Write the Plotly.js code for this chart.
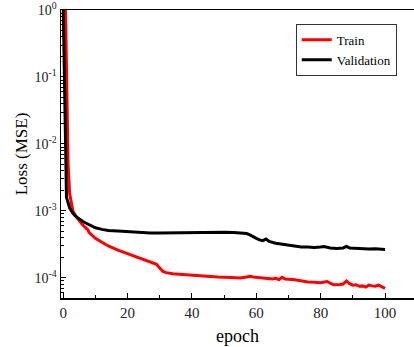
<!DOCTYPE html>
<html>
<head>
<meta charset="utf-8">
<script src="https://cdn.plot.ly/plotly-3.0.1.min.js"></script>
<style>html,body{margin:0;padding:0;background:#fff;}#chart{width:414px;height:347px;}</style>
</head>
<body>
<div id="chart"></div>
<script>
// Validation loss
const valEpoch = [0,0.5,1,2,3,4,5,6,7,8,9,10,12,14,17,20,23,25,27,30,35,40,45,50,53,56,57,58,59,60,61,62,63,64,66,68,70,72,74,76,78,80,81,83,85,87,88,89,91,93,95,97,99,100];
const valLoss = [1.0,0.05,1.6e-3,1.1e-3,9.2e-4,8.2e-4,7.5e-4,7.0e-4,6.6e-4,6.2e-4,5.9e-4,5.6e-4,5.3e-4,5.1e-4,5.0e-4,4.9e-4,4.8e-4,4.85e-4,4.7e-4,4.7e-4,4.75e-4,4.8e-4,4.8e-4,4.8e-4,4.75e-4,4.7e-4,4.6e-4,4.4e-4,4.1e-4,3.9e-4,3.7e-4,3.6e-4,3.8e-4,3.5e-4,3.3e-4,3.2e-4,3.1e-4,2.95e-4,2.9e-4,2.9e-4,2.85e-4,2.9e-4,2.95e-4,2.8e-4,2.75e-4,2.8e-4,2.95e-4,2.8e-4,2.75e-4,2.75e-4,2.7e-4,2.72e-4,2.68e-4,2.65e-4];
// Train loss
const trainEpoch = [0.7,1.1,1.5,2,3,4,5,6,7,7.7,8,9,10,12,14,17,20,22,25,27,29,30,31,32,34,37,40,44,48,52,55,57,58,59,62,65,66,67,68,69,72,74,76,78,80,82,83,84,86,87,88,89,90,91,92,93,94,95,96,97,98,99,100];
const trainLoss = [1.0,0.05,5e-3,1.8e-3,1.0e-3,8.2e-4,7.0e-4,6.2e-4,5.6e-4,5.2e-4,4.8e-4,4.3e-4,3.9e-4,3.4e-4,3.0e-4,2.6e-4,2.3e-4,2.1e-4,1.9e-4,1.75e-4,1.6e-4,1.4e-4,1.25e-4,1.2e-4,1.15e-4,1.12e-4,1.09e-4,1.06e-4,1.03e-4,1.01e-4,1.0e-4,1.03e-4,1.06e-4,1.03e-4,1.0e-4,9.6e-5,9.9e-5,9.4e-5,1.02e-4,9.6e-5,9.4e-5,9.0e-5,8.7e-5,8.6e-5,8.5e-5,8.8e-5,8.4e-5,7.9e-5,8.0e-5,8.1e-5,9.0e-5,8.2e-5,7.8e-5,7.9e-5,7.5e-5,7.6e-5,7.3e-5,7.8e-5,7.6e-5,7.5e-5,7.8e-5,7.4e-5,7.0e-5];
const yTickVals = [1e-4,1e-3,1e-2,1e-1,1];
const yTickText = ['10<sup>-4</sup>','10<sup>-3</sup>','10<sup>-2</sup>','10<sup>-1</sup>','10<sup>0</sup>'];
const seriesNames = ['Train','Validation'];

const font = 'Liberation Serif';
const data = [
  {x: trainEpoch, y: trainLoss, name: seriesNames[0], mode: 'lines', line: {color: '#ff0000', width: 3}},
  {x: valEpoch, y: valLoss, name: seriesNames[1], mode: 'lines', line: {color: '#000000', width: 3}}
];
const layout = {
  width: 414, height: 347,
  margin: {l: 61, r: 0, t: 10, b: 49, autoexpand: false},
  paper_bgcolor: '#fff', plot_bgcolor: '#fff',
  font: {family: font, color: '#000', size: 13},
  showlegend: true,
  legend: {x: 0.665, y: 0.952, xanchor: 'left', yanchor: 'top', bordercolor: '#333', borderwidth: 1,
           font: {family: font, size: 13, color: '#000'}, tracegroupgap: 0, bgcolor: '#fff'},
  xaxis: {
    range: [-0.7, 109.0], showgrid: false, zeroline: false,
    showline: true, linecolor: '#000', linewidth: 1.5, mirror: true,
    ticks: 'inside', ticklen: 5, tickcolor: '#000', tickwidth: 1, dtick: 20, tick0: 0,
    minor: {ticks: 'inside', ticklen: 3, dtick: 10, tickcolor: '#000'},
    tickfont: {family: font, size: 15, color: '#222'},
    title: {text: 'epoch', font: {family: font, size: 18, color: '#000'}, standoff: 10}
  },
  yaxis: {
    type: 'log', range: [-4.3, 0], showgrid: false, zeroline: false,
    showline: true, linecolor: '#000', linewidth: 1.5,
    ticks: 'inside', ticklen: 5, tickcolor: '#000', tickwidth: 1,
    tickmode: 'array', tickvals: yTickVals, ticktext: yTickText,
    minor: {ticks: 'inside', ticklen: 3, dtick: 'D1', tickcolor: '#000'},
    tickfont: {family: font, size: 14, color: '#222'},
    title: {text: 'Loss (MSE)', font: {family: font, size: 17, color: '#000'}, standoff: 2}
  }
};
Plotly.newPlot('chart', data, layout, {staticPlot: true, displayModeBar: false});
</script>
</body>
</html>
